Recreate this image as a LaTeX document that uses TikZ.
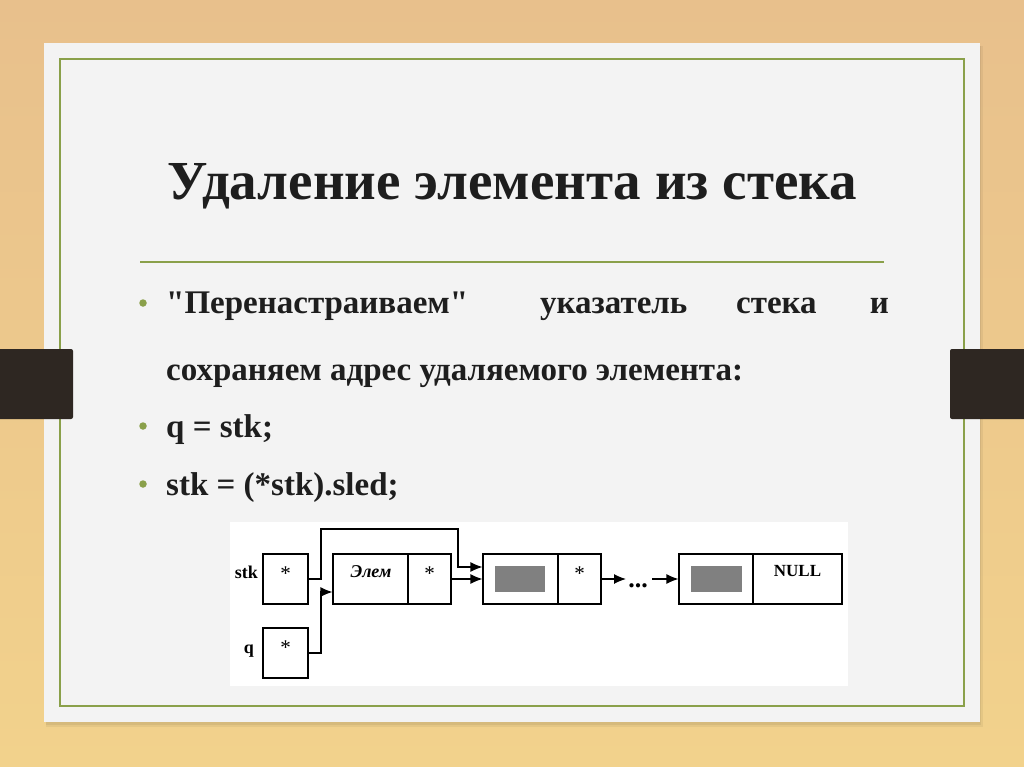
\documentclass[tikz,border=0pt]{standalone}
\usepackage{fontspec}
\setmainfont{Liberation Serif}[Ligatures=TeXOff]
\usetikzlibrary{arrows.meta}
\definecolor{woodtop}{RGB}{232,192,140}
\definecolor{woodbot}{RGB}{242,210,140}
\definecolor{paper}{RGB}{243,243,243}
\definecolor{frame}{RGB}{138,160,74}
\definecolor{strap}{RGB}{46,39,34}
\definecolor{ink}{RGB}{30,30,30}
\definecolor{cellgray}{RGB}{128,128,128}
\tikzset{
  body/.style={font=\bfseries\fontsize{33}{38}\selectfont, text=ink, inner sep=0pt, anchor=base west},
  bulletdot/.style={circle, fill=frame, inner sep=0pt, minimum size=7.5pt},
  cell/.style={draw=black, line width=1.1pt, inner sep=0pt, fill=white},
  celltext/.style={font=\fontsize{21}{22}\selectfont, inner sep=0pt},
  lab/.style={font=\bfseries\fontsize{18}{19}\selectfont, inner sep=0pt},
  link/.style={line width=1.2pt, -{Latex[length=12pt,width=10pt]}}
}
\begin{document}
\begin{tikzpicture}[x=1pt,y=-1pt]
\useasboundingbox (0,0) rectangle (1024,767);
% wood background
\shade[top color=woodtop, bottom color=woodbot] (0,0) rectangle (1024,767);
% paper shadow
\fill[black, opacity=0.05] (46,46) rectangle (983,727);
\fill[black, opacity=0.06] (46,46) rectangle (981,725);
% paper
\fill[paper] (44,43) rectangle (980,722);
% green frame
\draw[frame, line width=1.8pt] (60,59) rectangle (964,706);
% straps
\fill[strap, rounded corners=2pt] (-5,349) rectangle (73,419);
\fill[strap, rounded corners=2pt] (950,349) rectangle (1029,419);
% title
\node[font=\bfseries\fontsize{55}{60}\selectfont, text=ink, inner sep=0pt, anchor=base] (title) at (512,200) {Удаление элемента из стека};
\draw[frame, line width=1.5pt] (140,262) -- (884,262);
% bullets
\node[bulletdot] (b1) at (143,303) {};
\node[bulletdot] (b3) at (143,426) {};
\node[bulletdot] (b4) at (143,484) {};
\node[body] (l1a) at (166,313) {"Перенастраиваем"};
\node[body] (l1b) at (540,313) {указатель};
\node[body] (l1c) at (736,313) {стека};
\node[body, anchor=base east] (l1d) at (889,313) {и};
\node[body] (l2) at (166,380) {сохраняем адрес удаляемого элемента:};
\node[body] (l3) at (166,437) {q = stk;};
\node[body] (l4) at (166,495) {stk = (*stk).sled;};
% diagram panel
\fill[white] (230,522) rectangle (848,686);
% cells
\node[cell, minimum width=45pt, minimum height=50pt] (stkbox) at (285.5,579) {};
\node[cell, minimum width=45pt, minimum height=50pt] (qbox) at (285.5,653) {};
\node[cell, minimum width=75pt, minimum height=50pt] (elemA) at (370.5,579) {};
\node[cell, minimum width=43pt, minimum height=50pt] (elemB) at (429.5,579) {};
\node[cell, minimum width=75pt, minimum height=50pt] (n2A) at (520.5,579) {};
\node[cell, minimum width=43pt, minimum height=50pt] (n2B) at (579.5,579) {};
\node[cell, minimum width=74pt, minimum height=50pt] (n4A) at (716,579) {};
\node[cell, minimum width=89pt, minimum height=50pt] (n4B) at (797.5,579) {};
\fill[cellgray] (495,566) rectangle (545,592);
\fill[cellgray] (691,566) rectangle (742,592);
% labels
\node[lab, anchor=base east] (stklab) at (258,578) {stk};
\node[lab, anchor=base east] (qlab) at (254,653) {q};
\node[celltext] (s1) at (285.5,574) {*};
\node[celltext] (s2) at (285.5,648) {*};
\node[lab, font=\bfseries\itshape\fontsize{18}{19}\selectfont] (elemt) at (371,572) {Элем};
\node[celltext] (s3) at (429.5,574) {*};
\node[celltext] (s4) at (579.5,574) {*};
\node[lab, font=\bfseries\fontsize{17}{18}\selectfont] (nullt) at (797.5,571) {NULL};
\node[font=\bfseries\fontsize{26}{26}\selectfont, inner sep=0pt, anchor=base] (dots) at (638,587) {...};
% connectors
\coordinate (c1) at (321,579);
\coordinate (c2) at (321,529);
\coordinate (c3) at (458,529);
\coordinate (c4) at (458,567);
\coordinate (c5) at (321,653);
\coordinate (c6) at (321,592);
\coordinate (d1) at (626,579);
\coordinate (d2) at (652,579);
\draw[link] (stkbox.east |- c1) -- (c1) -- (c2) -- (c3) -- (c4) -- (n2A.west |- c4);
\draw[link] (qbox.east |- c5) -- (c5) -- (c6) -- (elemA.west |- c6);
\draw[link] (elemB.east) -- (n2A.west);
\draw[link] (n2B.east) -- (d1);
\draw[link] (d2) -- (n4A.west);
\end{tikzpicture}
\end{document}
